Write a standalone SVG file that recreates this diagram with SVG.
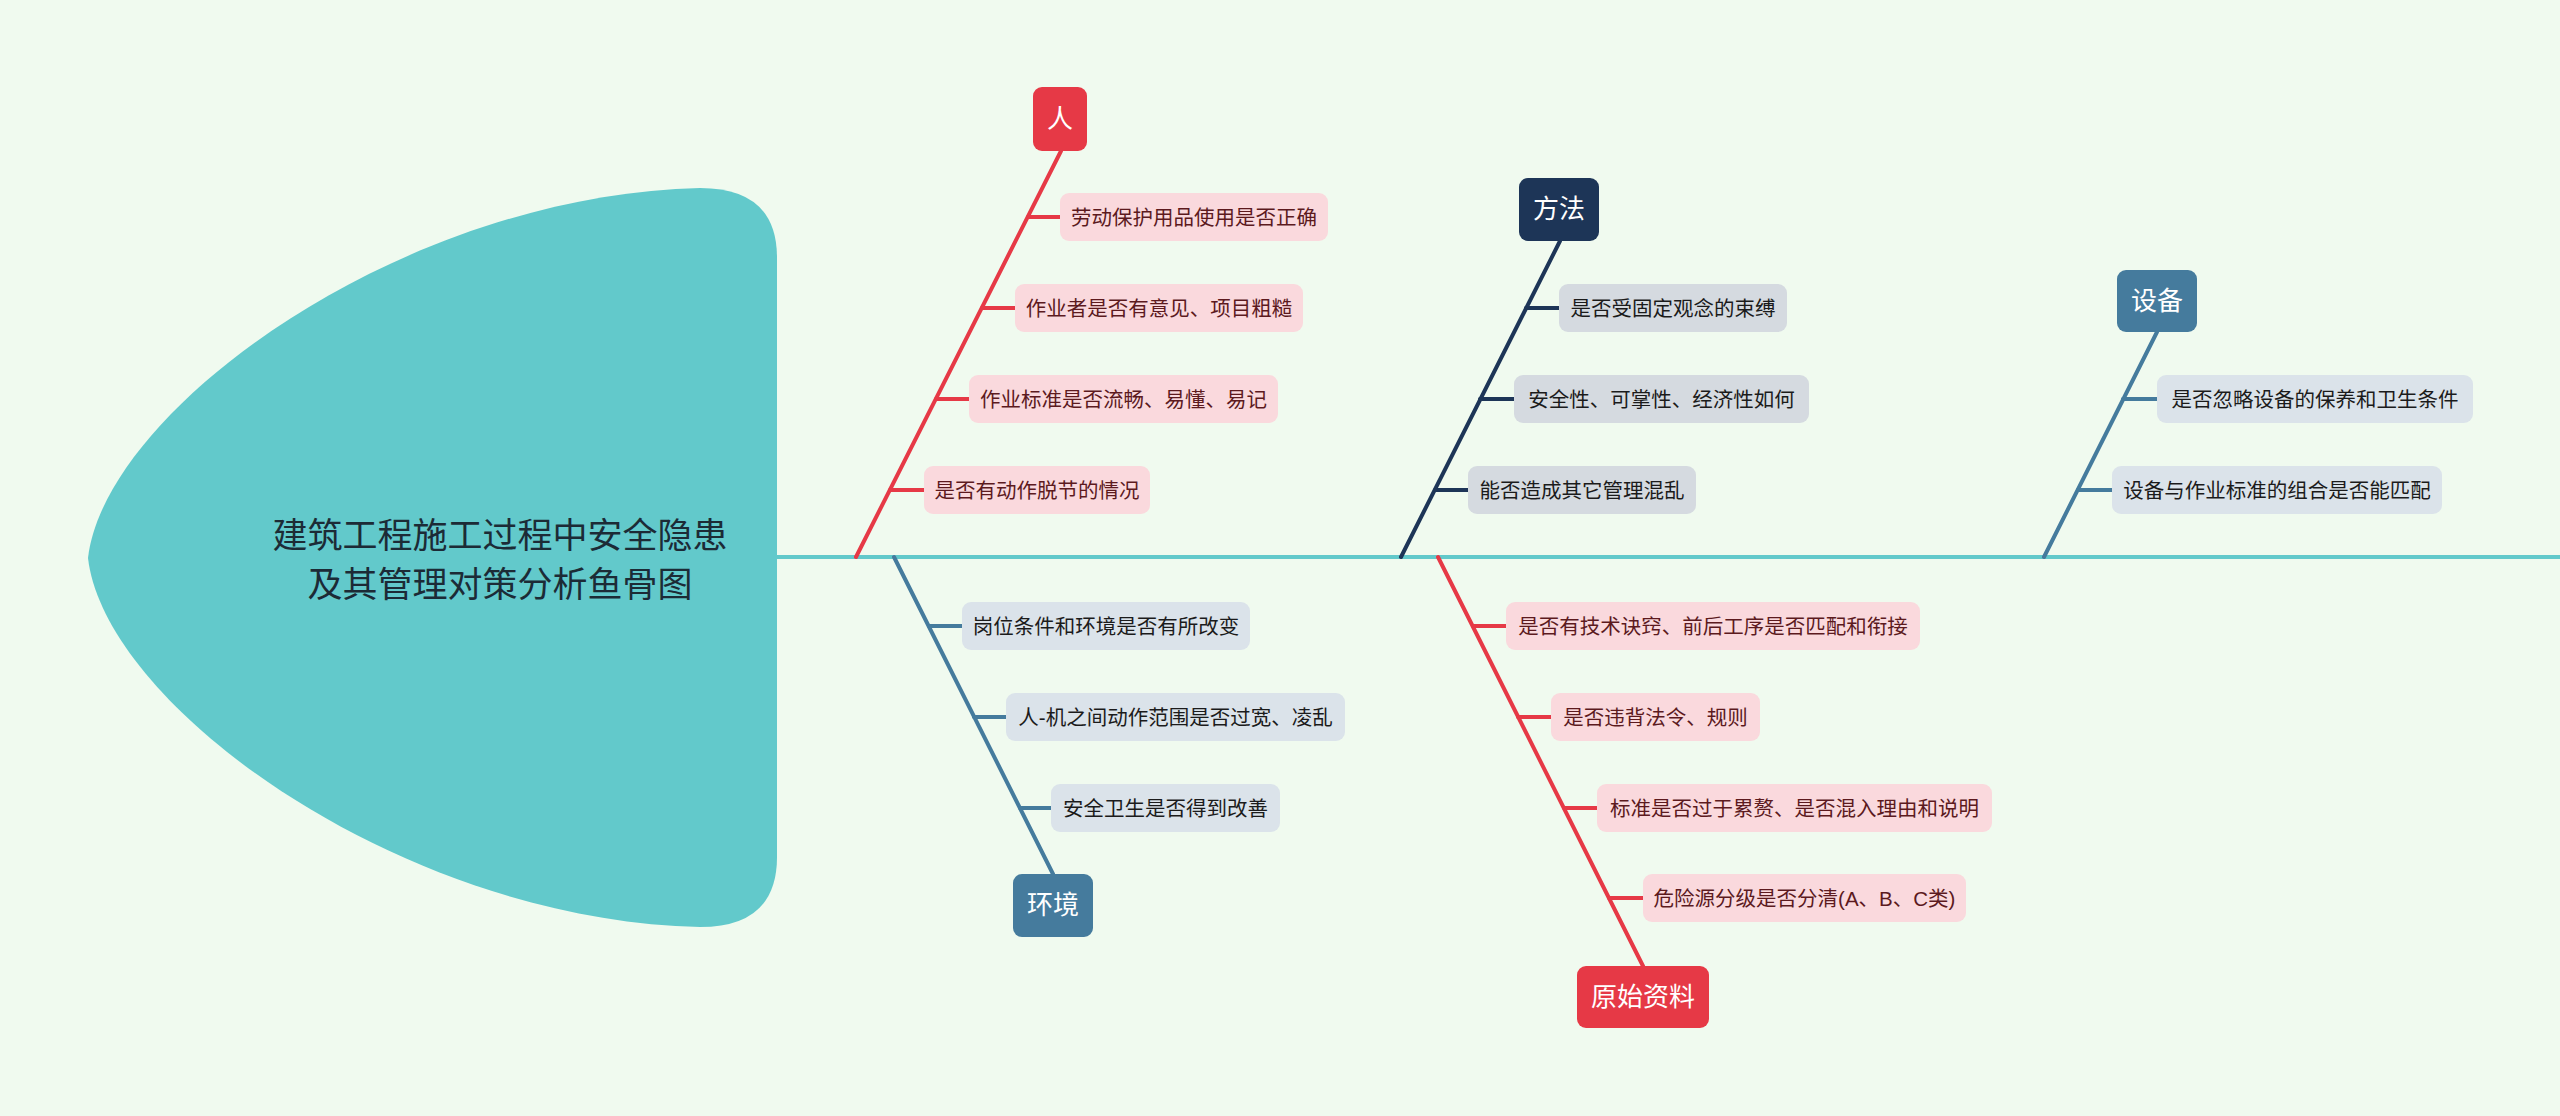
<svg xmlns="http://www.w3.org/2000/svg" width="2560" height="1116" viewBox="0 0 2560 1116">
<style>
text{font-family:"Liberation Sans","Noto Sans CJK SC",sans-serif;dominant-baseline:central;text-anchor:middle}
.cat{font-size:26px;fill:#ffffff}
.item{font-size:20.5px}
.red .bx{fill:#e63946}
.red .it rect{fill:#fad9dd}
.red .it text{fill:#5c1a1e}
.navy .bx{fill:#1d3557}
.navy .it rect{fill:#d5dae0}
.navy .it text{fill:#1b1b1b}
.steel .bx{fill:#457b9d}
.steel .it rect{fill:#dbe3ea}
.steel .it text{fill:#1b1b1b}
.ln{fill:none;stroke-width:4;stroke-linecap:round}
.lr{stroke:#e63946}.ln2{stroke:#1d3557}.ls{stroke:#457b9d}
</style>
<rect x="0" y="0" width="2560" height="1116" fill="#f0faef"/>

<g id="connectors">
<line x1="777" y1="557" x2="2560" y2="557" stroke="#62c9cb" stroke-width="4"/>
<!-- 人 -->
<path class="ln lr" d="M1061,151 L856,557"/>
<path class="ln lr" d="M1028,217 H1060 M982,308 H1015 M936,399 H969 M890,490 H924"/>
<!-- 环境 -->
<path class="ln ls" d="M894,557 L1053,874"/>
<path class="ln ls" d="M929,626 H962 M974,717 H1006 M1020,808 H1051"/>
<!-- 方法 -->
<path class="ln ln2" d="M1560,241 L1401,557"/>
<path class="ln ln2" d="M1526,308 H1559 M1480,399 H1514 M1435,490 H1468"/>
<!-- 设备 -->
<path class="ln ls" d="M2157,332 L2044,557"/>
<path class="ln ls" d="M2123,399 H2157 M2078,490 H2112"/>
<!-- 原始资料 -->
<path class="ln lr" d="M1438,557 L1643,966"/>
<path class="ln lr" d="M1473,626 H1506 M1518,717 H1551 M1564,808 H1597 M1609,898 H1643"/>
</g>

<g id="head">
<path d="M88,558 C105,410 400,195 700,188 Q777,188 777,258 L777,857 Q777,927 700,927 C400,920 105,706 88,558 Z" fill="#62c9cb"/>
<text x="500" y="535" font-size="35" fill="#1c2b36">建筑工程施工过程中安全隐患</text>
<text x="500" y="584" font-size="35" fill="#1c2b36">及其管理对策分析鱼骨图</text>
</g>

<g id="branch-ren" class="red">
<g id="cat-ren"><rect class="bx" x="1033" y="87" width="54" height="64" rx="9"/><text class="cat" x="1060" y="119">人</text></g>
<g id="ren-1" class="it"><rect x="1060" y="193" width="268" height="48" rx="9"/><text class="item" x="1194" y="217">劳动保护用品使用是否正确</text></g>
<g id="ren-2" class="it"><rect x="1015" y="284" width="288" height="48" rx="9"/><text class="item" x="1159" y="308">作业者是否有意见、项目粗糙</text></g>
<g id="ren-3" class="it"><rect x="969" y="375" width="309" height="48" rx="9"/><text class="item" x="1123.5" y="399">作业标准是否流畅、易懂、易记</text></g>
<g id="ren-4" class="it"><rect x="924" y="466" width="226" height="48" rx="9"/><text class="item" x="1037" y="490">是否有动作脱节的情况</text></g>
</g>

<g id="branch-huanjing" class="steel">
<g id="cat-huanjing"><rect class="bx" x="1013" y="874" width="80" height="63" rx="9"/><text class="cat" x="1053" y="905">环境</text></g>
<g id="hj-1" class="it"><rect x="962" y="602" width="288" height="48" rx="9"/><text class="item" x="1106" y="626">岗位条件和环境是否有所改变</text></g>
<g id="hj-2" class="it"><rect x="1006" y="693" width="339" height="48" rx="9"/><text class="item" x="1175.5" y="717">人-机之间动作范围是否过宽、凌乱</text></g>
<g id="hj-3" class="it"><rect x="1051" y="784" width="229" height="48" rx="9"/><text class="item" x="1165.5" y="808">安全卫生是否得到改善</text></g>
</g>

<g id="branch-fangfa" class="navy">
<g id="cat-fangfa"><rect class="bx" x="1519" y="178" width="80" height="63" rx="9"/><text class="cat" x="1559" y="209">方法</text></g>
<g id="ff-1" class="it"><rect x="1559" y="284" width="228" height="48" rx="9"/><text class="item" x="1673" y="308">是否受固定观念的束缚</text></g>
<g id="ff-2" class="it"><rect x="1514" y="375" width="295" height="48" rx="9"/><text class="item" x="1661.5" y="399">安全性、可掌性、经济性如何</text></g>
<g id="ff-3" class="it"><rect x="1468" y="466" width="228" height="48" rx="9"/><text class="item" x="1582" y="490">能否造成其它管理混乱</text></g>
</g>

<g id="branch-shebei" class="steel">
<g id="cat-shebei"><rect class="bx" x="2117" y="270" width="80" height="62" rx="9"/><text class="cat" x="2157" y="301">设备</text></g>
<g id="sb-1" class="it"><rect x="2157" y="375" width="316" height="48" rx="9"/><text class="item" x="2315" y="399">是否忽略设备的保养和卫生条件</text></g>
<g id="sb-2" class="it"><rect x="2112" y="466" width="330" height="48" rx="9"/><text class="item" x="2277" y="490">设备与作业标准的组合是否能匹配</text></g>
</g>

<g id="branch-yuanshi" class="red">
<g id="cat-yuanshi"><rect class="bx" x="1577" y="966" width="132" height="62" rx="9"/><text class="cat" x="1643" y="997">原始资料</text></g>
<g id="ys-1" class="it"><rect x="1506" y="602" width="414" height="48" rx="9"/><text class="item" x="1713" y="626">是否有技术诀窍、前后工序是否匹配和衔接</text></g>
<g id="ys-2" class="it"><rect x="1551" y="693" width="209" height="48" rx="9"/><text class="item" x="1655.5" y="717">是否违背法令、规则</text></g>
<g id="ys-3" class="it"><rect x="1597" y="784" width="395" height="48" rx="9"/><text class="item" x="1794.5" y="808">标准是否过于累赘、是否混入理由和说明</text></g>
<g id="ys-4" class="it"><rect x="1643" y="874" width="323" height="48" rx="9"/><text class="item" x="1804.5" y="898">危险源分级是否分清(A、B、C类)</text></g>
</g>
</svg>
